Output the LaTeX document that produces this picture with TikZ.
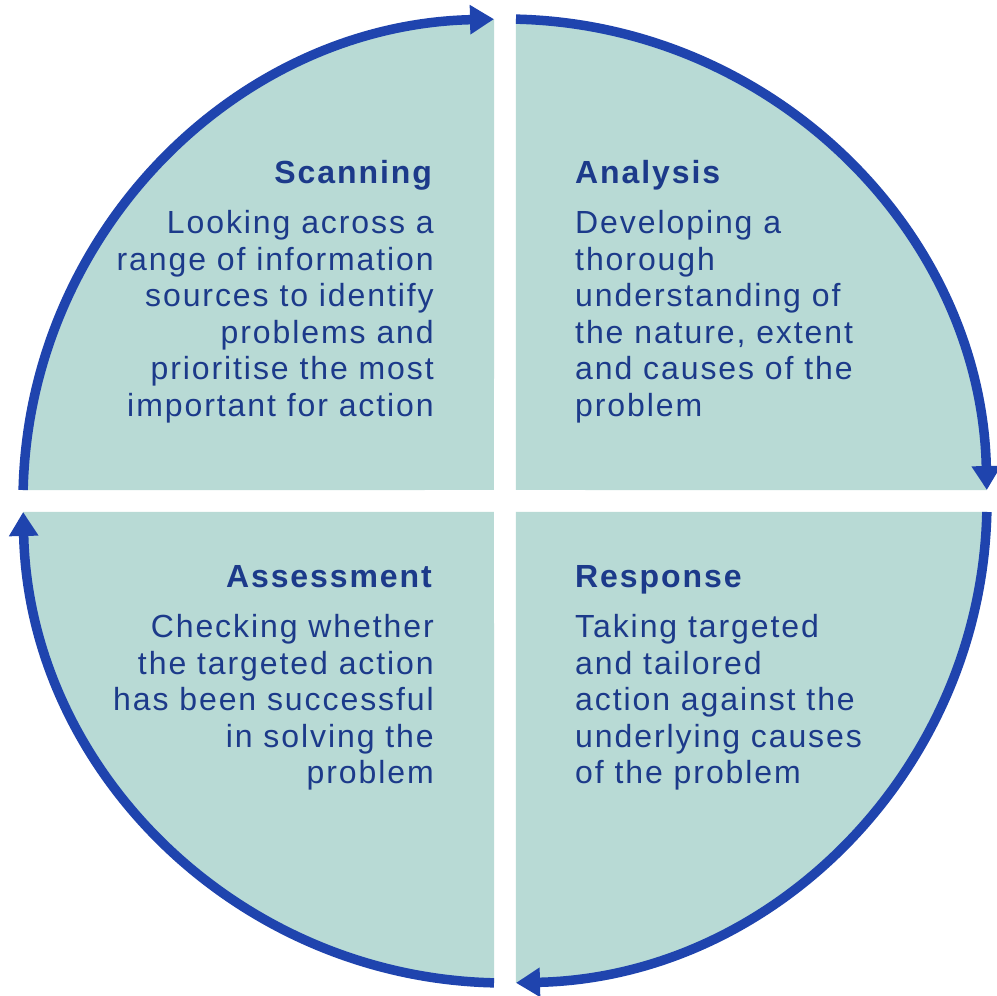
\documentclass[tikz,border=0pt]{standalone}
\usepackage{fontspec}
\usetikzlibrary{arrows.meta}
\newfontfamily\labelfont{Liberation Sans}[LetterSpace=6]
\definecolor{quadfill}{HTML}{B8DAD5}
\definecolor{cycleblue}{HTML}{1F44AE}
\definecolor{labelblue}{HTML}{1C3A8A}
\tikzset{
  quad/.style={fill=quadfill, draw=none},
  cyclearrow/.style={draw=cycleblue, line width=9.5pt, -{Triangle[length=24pt,width=28pt]}},
  quadtext/.style={inner sep=0pt, text=labelblue, font=\labelfont\fontsize{32}{36.5}\selectfont},
}
\begin{document}
\begin{tikzpicture}[x=1pt,y=1pt]
  \def\R{482}
  \def\g{11}
  \pgfmathsetmacro\ga{asin(\g/\R)}
  \fill[white] (-505,-495) rectangle (492,501);
  \useasboundingbox (-505,-495) rectangle (492,501);

  % the four quarters
  \fill[quad] (-\g,\g) -- (90+\ga:\R pt) arc[start angle=90+\ga, end angle=180-\ga, radius=\R pt] -- cycle;
  \fill[quad] (\g,\g) -- (90-\ga:\R pt) arc[start angle=90-\ga, end angle=\ga, radius=\R pt] -- cycle;
  \fill[quad] (\g,-\g) -- (-\ga:\R pt) arc[start angle=-\ga, end angle=-90+\ga, radius=\R pt] -- cycle;
  \fill[quad] (-\g,-\g) -- (180+\ga:\R pt) arc[start angle=180+\ga, end angle=270-\ga, radius=\R pt] -- cycle;

  % arc ends
  \coordinate (scanstart) at (180-\ga:\R pt);
  \coordinate (anastart) at (90-\ga:\R pt);
  \coordinate (respstart) at (-\ga:\R pt);
  \coordinate (assstart) at (270-\ga:\R pt);

  \draw[cyclearrow] (scanstart) arc[start angle=180-\ga, end angle=90+\ga, radius=\R pt];
  \draw[cyclearrow] (anastart) arc[start angle=90-\ga, end angle=\ga, radius=\R pt];
  \draw[cyclearrow] (respstart) arc[start angle=-\ga, end angle=-90+\ga, radius=\R pt];
  \draw[cyclearrow] (assstart) arc[start angle=270-\ga, end angle=180+\ga, radius=\R pt];

  % texts
  \node[quadtext, anchor=base east] (scan) at (-71,317) {\begin{tabular}[t]{@{}r@{}}
    \textbf{Scanning}\\[13.5pt]
    Looking across a\\
    range of information\\
    sources to identify\\
    problems and\\
    prioritise the most\\
    important for action
  \end{tabular}};
  \node[quadtext, anchor=base west] (analysis) at (70,317) {\begin{tabular}[t]{@{}l@{}}
    \textbf{Analysis}\\[13.5pt]
    Developing a\\
    thorough\\
    understanding of\\
    the nature, extent\\
    and causes of the\\
    problem
  \end{tabular}};
  \node[quadtext, anchor=base west] (response) at (70,-87) {\begin{tabular}[t]{@{}l@{}}
    \textbf{Response}\\[13.5pt]
    Taking targeted\\
    and tailored\\
    action against the\\
    underlying causes\\
    of the problem
  \end{tabular}};
  \node[quadtext, anchor=base east] (assess) at (-71,-87) {\begin{tabular}[t]{@{}r@{}}
    \textbf{Assessment}\\[13.5pt]
    Checking whether\\
    the targeted action\\
    has been successful\\
    in solving the\\
    problem
  \end{tabular}};
\end{tikzpicture}
\end{document}
